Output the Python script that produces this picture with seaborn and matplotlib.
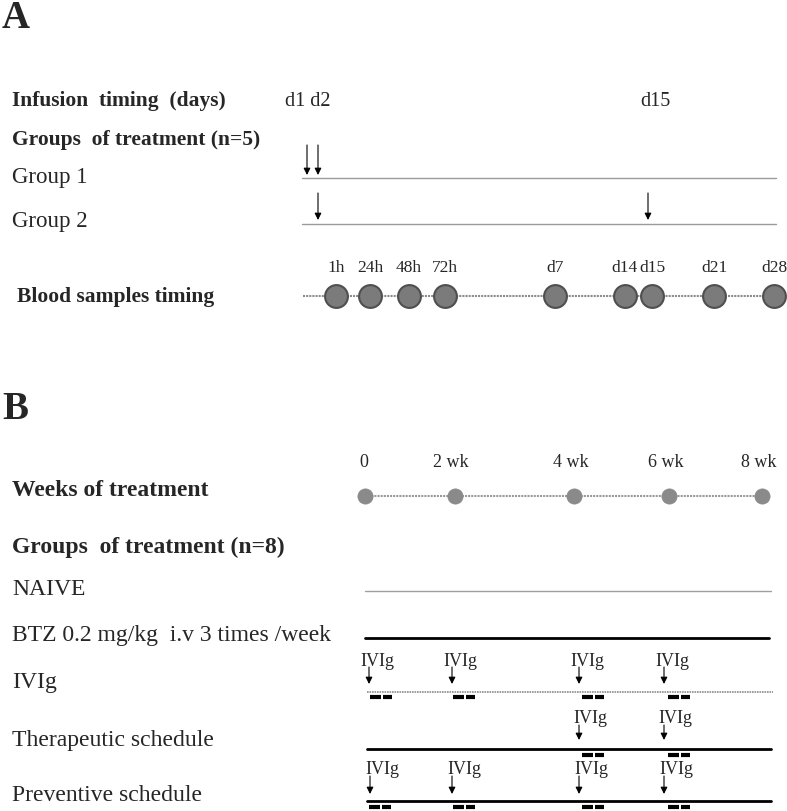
import numpy as np
import pandas as pd
import matplotlib
matplotlib.use('Agg')
import matplotlib.pyplot as plt
import seaborn as sns

sns.set_theme(style='white')
plt.rcParams['font.family'] = ['Liberation Serif', 'DejaVu Serif']

# ---------------------------
# Panel A data
# ---------------------------
infusion_labels = ['d1 d2', 'd15']
infusion_label_x = [285, 640]
group1_arrows_x = [307, 318]
group2_arrows_x = [318, 648]
sample_labels = ['1h', '24h', '48h', '72h', 'd7', 'd14', 'd15', 'd21', 'd28']
sample_x = [336, 370, 409, 445, 555, 625, 652, 714, 774]

# ---------------------------
# Panel B data
# ---------------------------
week_labels = ['0', '2 wk', '4 wk', '6 wk', '8 wk']
week_x = [365, 455, 574, 669, 762]
week_label_x = [364, 451, 571, 666, 759]
ivig_arrows_x = [369, 452, 579, 664]
therapeutic_arrows_x = [579, 664]
preventive_arrows_x = [370, 452, 579, 664]
ivig_dash_x = [370, 453, 582, 668]
therapeutic_dash_x = [582, 668]
preventive_dash_x = [369, 453, 582, 668]

fig = plt.figure(figsize=(7.87, 8.12), dpi=100)
ax = fig.add_axes([0, 0, 1, 1])
ax.set_xlim(0, 787)
ax.set_ylim(812, 0)
ax.axis('off')

bold_a = dict(fontsize=15.5, fontweight='bold', va='center', ha='left')
reg_a = dict(fontsize=16.5, va='center', ha='left')
bold_b = dict(fontsize=17, fontweight='bold', va='center', ha='left')
reg_b = dict(fontsize=17, va='center', ha='left')


def arrow(x, y0, y1, lw=0.8):
    ax.annotate('', xy=(x, y1), xytext=(x, y0),
                arrowprops=dict(arrowstyle='-|>', color='black', lw=lw,
                                mutation_scale=10, shrinkA=0, shrinkB=0))


def dashes(x, y):
    ax.plot([x, x + 11], [y, y], color='black', lw=3, solid_capstyle='butt')
    ax.plot([x + 13, x + 22], [y, y], color='black', lw=3, solid_capstyle='butt')


# ---------------------------
# Panel A
# ---------------------------
ax.text(2, 19, 'A', fontsize=28, fontweight='bold', va='center', ha='left')
ax.text(12, 101, 'Infusion  timing  (days)', **bold_a)
for lab, x in zip(infusion_labels, infusion_label_x):
    ax.text(x, 101, lab, fontsize=14.5, va='center', ha='left')
ax.text(12, 140, 'Groups  of treatment (n=5)', **bold_a)

ax.text(12, 178, 'Group 1', **reg_a)
ax.plot([302, 776], [179, 179], color='#9a9a9a', lw=1)
for x in group1_arrows_x:
    arrow(x, 146, 176)

ax.text(12, 222, 'Group 2', **reg_a)
ax.plot([302, 776], [225, 225], color='#9a9a9a', lw=1)
for x in group2_arrows_x:
    arrow(x, 194, 221)

ax.text(17, 297, 'Blood samples timing', **bold_a)
ax.plot([303, 782], [297, 297], color='#8c8c8c', lw=1.5, ls=(0, (1, 0.5)))
blood = pd.DataFrame({'x': sample_x, 'y': [297] * len(sample_x)})
sns.scatterplot(data=blood, x='x', y='y', ax=ax, s=270, color='#7b7b7b',
                edgecolor='#4f4f4f', linewidth=1.5, zorder=3, legend=False)
for lab, x in zip(sample_labels, sample_x):
    ax.text(x, 268, lab, fontsize=12.5, va='center', ha='center')

# ---------------------------
# Panel B
# ---------------------------
ax.text(2, 410, 'B', fontsize=28, fontweight='bold', va='center', ha='left')
ax.text(12, 491, 'Weeks of treatment', **bold_b)
ax.plot([week_x[0], week_x[-1]], [497, 497], color='#9a9a9a', lw=1.5,
        ls=(0, (1, 0.5)))
weeks = pd.DataFrame({'x': week_x, 'y': [497] * len(week_x)})
sns.scatterplot(data=weeks, x='x', y='y', ax=ax, s=120, color='#8a8a8a',
                edgecolor='#8a8a8a', linewidth=0.5, zorder=3, legend=False)
for lab, x in zip(week_labels, week_label_x):
    ax.text(x, 463, lab, fontsize=13, va='center', ha='center')

ax.text(12, 547, 'Groups  of treatment (n=8)', **bold_b)

ax.text(12, 590, 'NAIVE', **reg_b)
ax.plot([365, 771], [592, 592], color='#a0a0a0', lw=1)

ax.text(12, 636, 'BTZ 0.2 mg/kg  i.v 3 times /week', **reg_b)
ax.plot([365, 769], [639, 639], color='black', lw=2)

ax.text(12, 683, 'IVIg', **reg_b)
ax.plot([367, 773], [693, 693], color='#8c8c8c', lw=1.2, ls=(0, (1, 0.5)))
for x in ivig_arrows_x:
    ax.text(x - 9, 662, 'IVIg', fontsize=13, va='center', ha='left')
    arrow(x, 668, 685)
for x in ivig_dash_x:
    dashes(x, 698)

ax.text(12, 741, 'Therapeutic schedule', **reg_b)
ax.plot([367, 771], [750, 750], color='black', lw=2)
for x in therapeutic_arrows_x:
    ax.text(x - 6, 719, 'IVIg', fontsize=13, va='center', ha='left')
    arrow(x, 726, 741)
for x in therapeutic_dash_x:
    dashes(x, 756)

ax.text(12, 796, 'Preventive schedule', **reg_b)
ax.plot([367, 771], [802, 802], color='black', lw=2)
for x in preventive_arrows_x:
    ax.text(x - 5, 770, 'IVIg', fontsize=13, va='center', ha='left')
    arrow(x, 777, 795)
for x in preventive_dash_x:
    dashes(x, 808)

fig.savefig('out.png', dpi=100, facecolor='white')
